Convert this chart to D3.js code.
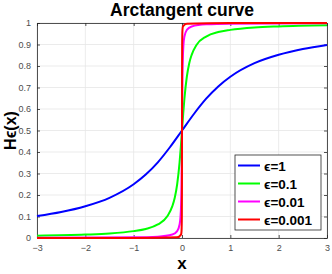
<!DOCTYPE html>
<html>
<head>
<meta charset="utf-8">
<script src="https://cdn.jsdelivr.net/npm/d3@7"></script>
<style>
  body { margin: 0; background: #fff; }
  text { font-family: "Liberation Sans", Arial, sans-serif; }
  .tick text { fill: #4d4d4d; font-size: 9px; }
</style>
</head>
<body>
<svg id="chart"></svg>
<script>
// values
var xEps1 = [-3, -2.5, -2, -1.5, -1, -0.75, -0.5, -0.25, 0, 0.25, 0.5, 0.75, 1, 1.5, 2, 2.5, 3];
var yEps1 = [0.102, 0.121, 0.148, 0.187, 0.25, 0.295, 0.352, 0.422, 0.5, 0.578, 0.648, 0.705, 0.75, 0.813, 0.852, 0.879, 0.898];

var xEps01 = [-3, -2, -1.5, -1, -0.75, -0.5, -0.3, -0.2, -0.15, -0.1, -0.05, -0.025, 0, 0.025, 0.05, 0.1, 0.15, 0.2, 0.3, 0.5, 0.75, 1, 1.5, 2, 3];
var yEps01 = [0.011, 0.016, 0.021, 0.032, 0.042, 0.063, 0.102, 0.148, 0.187, 0.25, 0.352, 0.422, 0.5, 0.578, 0.648, 0.75, 0.813, 0.852, 0.898, 0.937, 0.958, 0.968, 0.979, 0.984, 0.989];

var xEps001 = [-3, -1, -0.5, -0.2, -0.1, -0.05, -0.03, -0.02, -0.01, -0.005, 0, 0.005, 0.01, 0.02, 0.03, 0.05, 0.1, 0.2, 0.5, 1, 3];
var yEps001 = [0.001, 0.003, 0.006, 0.016, 0.032, 0.063, 0.102, 0.148, 0.25, 0.352, 0.5, 0.648, 0.75, 0.852, 0.898, 0.937, 0.968, 0.984, 0.994, 0.997, 0.999];

var xEps0001 = [-3, -1, -0.1, -0.02, -0.01, -0.003, -0.001, 0, 0.001, 0.003, 0.01, 0.02, 0.1, 1, 3];
var yEps0001 = [0.0001, 0.0003, 0.003, 0.016, 0.032, 0.102, 0.25, 0.5, 0.75, 0.898, 0.968, 0.984, 0.997, 0.9997, 0.9999];

var seriesNames = ["\u03f5=1", "\u03f5=0.1", "\u03f5=0.01", "\u03f5=0.001"];
var seriesColors = ["#0000ff", "#00ff00", "#ff00ff", "#ff0000"];
var xTicks = [-3, -2, -1, 0, 1, 2, 3];
var yTicks = [0, 0.1, 0.2, 0.3, 0.4, 0.5, 0.6, 0.7, 0.8, 0.9, 1];

var svgWidth = 332;
var svgHeight = 274;
var margin = { top: 23, right: 5, bottom: 36, left: 37 };
var chartWidth = svgWidth - margin.left - margin.right;
var chartHeight = svgHeight - margin.top - margin.bottom;

var svg = d3.select("#chart")
  .attr("width", svgWidth)
  .attr("height", svgHeight);

var chart = svg.append("g")
  .attr("transform", "translate(" + margin.left + "," + margin.top + ")");

var xScale = d3.scaleLinear().domain([-3, 3]).range([0, chartWidth]);
var yScale = d3.scaleLinear().domain([0, 1]).range([chartHeight, 0]);

// grid
chart.append("g").selectAll("line").data(xTicks).enter().append("line")
  .attr("x1", d => xScale(d)).attr("x2", d => xScale(d))
  .attr("y1", 0).attr("y2", chartHeight)
  .attr("stroke", "#e6e6e6").attr("stroke-width", 0.8);
chart.append("g").selectAll("line").data(yTicks).enter().append("line")
  .attr("x1", 0).attr("x2", chartWidth)
  .attr("y1", d => yScale(d)).attr("y2", d => yScale(d))
  .attr("stroke", "#e6e6e6").attr("stroke-width", 0.8);

// axes (ticks inside, like matlab)
function styleAxis(g) {
  g.select(".domain").attr("stroke", "#262626").attr("stroke-width", 0.8);
  g.selectAll(".tick line").attr("stroke", "#262626").attr("stroke-width", 0.8);
}
chart.append("g")
  .attr("transform", "translate(0," + chartHeight + ")")
  .call(d3.axisBottom(xScale).tickValues(xTicks).tickFormat(d3.format("d")).tickSizeInner(-3).tickSizeOuter(0).tickPadding(7))
  .call(styleAxis);
chart.append("g")
  .call(d3.axisTop(xScale).tickValues(xTicks).tickFormat("").tickSizeInner(-3).tickSizeOuter(0))
  .call(styleAxis);
chart.append("g")
  .call(d3.axisLeft(yScale).tickValues(yTicks).tickFormat(d3.format("~g")).tickSizeInner(-3).tickSizeOuter(0).tickPadding(6))
  .call(styleAxis);
chart.append("g")
  .attr("transform", "translate(" + chartWidth + ",0)")
  .call(d3.axisRight(yScale).tickValues(yTicks).tickFormat("").tickSizeInner(-3).tickSizeOuter(0))
  .call(styleAxis);

// curves
var allX = [xEps1, xEps01, xEps001, xEps0001];
var allY = [yEps1, yEps01, yEps001, yEps0001];
var line = d3.line()
  .x(d => xScale(d[0]))
  .y(d => yScale(d[1]))
  .curve(d3.curveMonotoneX);

allX.forEach(function (xs, i) {
  var pts = xs.map((x, j) => [x, allY[i][j]]);
  chart.append("path")
    .datum(pts)
    .attr("d", line)
    .attr("fill", "none")
    .attr("stroke", seriesColors[i])
    .attr("stroke-width", 2);
});

// legend
var legend = chart.append("g")
  .attr("transform", "translate(" + (235 - margin.left) + "," + (155 - margin.top) + ")");
legend.append("rect")
  .attr("width", 86).attr("height", 75)
  .attr("fill", "#fff").attr("stroke", "#262626").attr("stroke-width", 0.8);
seriesNames.forEach(function (name, i) {
  var y = 10.5 + i * 18;
  legend.append("line")
    .attr("x1", 3).attr("x2", 25).attr("y1", y).attr("y2", y)
    .attr("stroke", seriesColors[i]).attr("stroke-width", 2);
  legend.append("text")
    .attr("x", 29).attr("y", y + 5)
    .attr("font-size", "13.5px").attr("font-weight", "bold")
    .text(name);
});

// titles
svg.append("text")
  .attr("x", margin.left + chartWidth / 2).attr("y", 16)
  .attr("text-anchor", "middle")
  .attr("font-size", "17.5px").attr("font-weight", "bold")
  .text("Arctangent curve");
svg.append("text")
  .attr("x", margin.left + chartWidth / 2).attr("y", 269)
  .attr("text-anchor", "middle")
  .attr("font-size", "17px").attr("font-weight", "bold")
  .text("x");
svg.append("text")
  .attr("transform", "translate(16," + (margin.top + chartHeight / 2) + ") rotate(-90)")
  .attr("text-anchor", "middle")
  .attr("font-size", "16px").attr("font-weight", "bold")
  .text("H\u03f5(x)");
</script>
</body>
</html>
